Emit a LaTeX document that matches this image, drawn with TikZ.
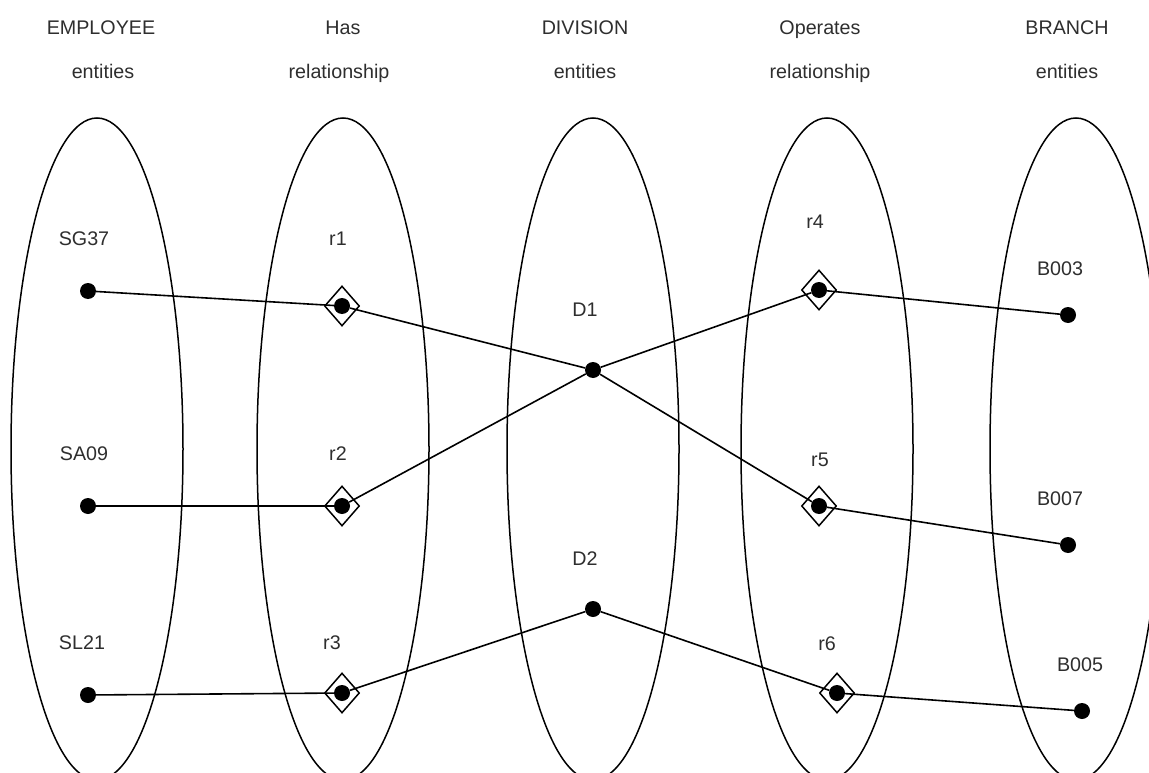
\documentclass[tikz,border=0pt]{standalone}
\usepackage{fontspec}
\setmainfont{Liberation Sans}
\usetikzlibrary{shapes.geometric}
\begin{document}
\begin{tikzpicture}[x=1pt,y=-1pt,
  set/.style={draw, ellipse, line width=1.5pt, minimum width=172pt, minimum height=662pt, inner sep=0pt},
  dot/.style={circle, fill=black, inner sep=0pt, minimum size=16pt},
  rel/.style={diamond, draw, line width=1.5pt, inner sep=0pt, minimum width=35pt, minimum height=40pt},
  link/.style={line width=1.6pt},
  lbl/.style={anchor=base, inner sep=0pt, font=\fontsize{19.7}{22}\selectfont, text=black!82}
]
\useasboundingbox (0,0) rectangle (1149,773);
\clip (0,0) rectangle (1149,773);

% column headings
\node[lbl] (h1a) at (101,35) {EMPLOYEE};
\node[lbl] (h1b) at (103,79) {entities};
\node[lbl] (h2a) at (343,35) {Has};
\node[lbl] (h2b) at (339,79) {relationship};
\node[lbl] (h3a) at (585,35) {DIVISION};
\node[lbl] (h3b) at (585,79) {entities};
\node[lbl] (h4a) at (820,35) {Operates};
\node[lbl] (h4b) at (820,79) {relationship};
\node[lbl] (h5a) at (1067,35) {BRANCH};
\node[lbl] (h5b) at (1067,79) {entities};

% entity sets and relationship sets
\node[set] (employee) at (97,449) {};
\node[set] (has) at (343,449) {};
\node[set] (division) at (593,449) {};
\node[set] (operates) at (827,449) {};
\node[set] (branch) at (1076,449) {};

% member labels
\node[lbl] (tSG37) at (84,245) {SG37};
\node[lbl] (tSA09) at (84,460) {SA09};
\node[lbl] (tSL21) at (82,649) {SL21};
\node[lbl] (tr1) at (338,245) {r1};
\node[lbl] (tr2) at (338,460) {r2};
\node[lbl] (tr3) at (332,649) {r3};
\node[lbl] (tD1) at (585,316) {D1};
\node[lbl] (tD2) at (585,565) {D2};
\node[lbl] (tr4) at (815,228) {r4};
\node[lbl] (tr5) at (820,466) {r5};
\node[lbl] (tr6) at (827,650) {r6};
\node[lbl] (tB003) at (1060,275) {B003};
\node[lbl] (tB007) at (1060,505) {B007};
\node[lbl] (tB005) at (1080,671) {B005};

% relationship instances
\node[rel] (r1) at (342,306) {};
\node[rel] (r2) at (342,506) {};
\node[rel] (r3) at (342,693) {};
\node[rel] (r4) at (819,290) {};
\node[rel] (r5) at (819,506) {};
\node[rel] (r6) at (837,693) {};

% member points
\node[dot] (SG37) at (88,291) {};
\node[dot] (SA09) at (88,506) {};
\node[dot] (SL21) at (88,695) {};
\node[dot] (D1) at (593,370) {};
\node[dot] (D2) at (593,609) {};
\node[dot] (B003) at (1068,315) {};
\node[dot] (B007) at (1068,545) {};
\node[dot] (B005) at (1082,711) {};
\node[dot] (r1d) at (r1.center) {};
\node[dot] (r2d) at (r2.center) {};
\node[dot] (r3d) at (r3.center) {};
\node[dot] (r4d) at (r4.center) {};
\node[dot] (r5d) at (r5.center) {};
\node[dot] (r6d) at (r6.center) {};

% participation links
\draw[link] (SG37) -- (r1d) -- (D1) -- (r5d) -- (B007);
\draw[link] (SA09) -- (r2d) -- (D1) -- (r4d) -- (B003);
\draw[link] (SL21) -- (r3d) -- (D2) -- (r6d) -- (B005);
\end{tikzpicture}
\end{document}
